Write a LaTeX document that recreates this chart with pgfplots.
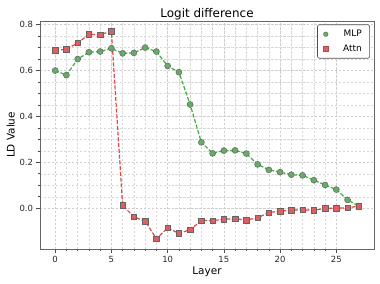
\documentclass[border=0pt]{standalone}
\usepackage{pgfplots}
\pgfplotsset{compat=1.18}
\usepackage{fontspec}
\setmainfont{DejaVu Sans}
\definecolor{lgreen}{RGB}{60,175,60}
\definecolor{mgreen}{RGB}{105,170,105}
\definecolor{lred}{RGB}{228,70,70}
\definecolor{mred}{RGB}{222,95,95}
\definecolor{medge}{RGB}{100,100,100}
\definecolor{gridc}{RGB}{205,205,205}
\begin{document}
\begin{tikzpicture}
\useasboundingbox (-40bp,-35bp) rectangle (340bp,249bp);
\begin{axis}[
  at={(0,0)}, anchor=south west,
  scale only axis, width=334bp, height=228bp,
  xmin=-1.35, xmax=28.35, ymin=-0.178, ymax=0.816,
  xtick={0,5,...,25}, ytick={0,0.2,0.4,0.6,0.8},
  minor x tick num=4, minor y tick num=3,
  yticklabel style={/pgf/number format/fixed,/pgf/number format/fixed zerofill,/pgf/number format/precision=1},
  /pgf/number format/assume math mode=true,
  tick label style={font=\fontsize{8.5}{10}\selectfont, text=black!85},
  tick align=outside, tick pos=left,
  major tick length=3.5bp, minor tick length=2bp,
  every tick/.style={black!70, line width=0.6pt},
  grid=both,
  major grid style={gridc, dash pattern=on 2.5pt off 1.5pt, line width=0.5pt},
  minor grid style={gridc!80, dash pattern=on 2.5pt off 1.5pt, line width=0.4pt},
  axis line style={black!60, line width=0.8pt},
  title={Logit difference},
  title style={font=\fontsize{12}{14}\selectfont, yshift=-8bp},
  xlabel={Layer}, ylabel={LD Value},
  xlabel style={font=\fontsize{10.5}{12}\selectfont, yshift=2bp},
  ylabel style={font=\fontsize{10.5}{12}\selectfont, yshift=-2bp},
  legend style={at={(0.988,0.985)}, anchor=north east, draw=black!70, rounded corners=2pt, font=\fontsize{9}{11}\selectfont, row sep=2.5pt, inner xsep=6pt, inner ysep=3.5pt, line width=0.6pt},
  legend cell align=right,
  legend image code/.code={\draw plot coordinates {(0.3cm,0cm)};},
  /tikz/every odd column/.append style={column sep=13pt},
]
\addlegendimage{only marks, mark=*, mark size=2.3bp, mark options={solid, fill=mgreen, draw=mgreen!70!black, line width=0.4pt}}
\addlegendimage{only marks, mark=square*, mark size=2.2bp, mark options={solid, fill=mred, draw=mred!80!black, line width=0.4pt}}
\addplot[forget plot, lgreen, dash pattern=on 4pt off 1.8pt, line width=1.2pt, mark=*, mark size=3bp, mark options={solid, fill=mgreen, draw=medge, line width=0.5pt}] coordinates {
(0,0.600) (1,0.580) (2,0.650) (3,0.680) (4,0.683) (5,0.697) (6,0.675) (7,0.677) (8,0.700) (9,0.683)
(10,0.620) (11,0.593) (12,0.452) (13,0.287) (14,0.239) (15,0.251) (16,0.252) (17,0.238) (18,0.191) (19,0.167)
(20,0.157) (21,0.146) (22,0.143) (23,0.122) (24,0.101) (25,0.081) (26,0.036) (27,0.009)};
\addplot[forget plot, lred, dash pattern=on 4pt off 1.8pt, line width=1.2pt, mark=square*, mark size=2.7bp, mark options={solid, fill=mred, draw=medge, line width=0.5pt}] coordinates {
(0,0.688) (1,0.693) (2,0.720) (3,0.758) (4,0.757) (5,0.771) (6,0.012) (7,-0.038) (8,-0.057) (9,-0.133)
(10,-0.086) (11,-0.110) (12,-0.094) (13,-0.054) (14,-0.054) (15,-0.048) (16,-0.046) (17,-0.052) (18,-0.042) (19,-0.019)
(20,-0.013) (21,-0.009) (22,-0.007) (23,-0.009) (24,-0.001) (25,0.000) (26,0.001) (27,0.009)};
\legend{MLP,Attn}
\end{axis}
\end{tikzpicture}
\end{document}
